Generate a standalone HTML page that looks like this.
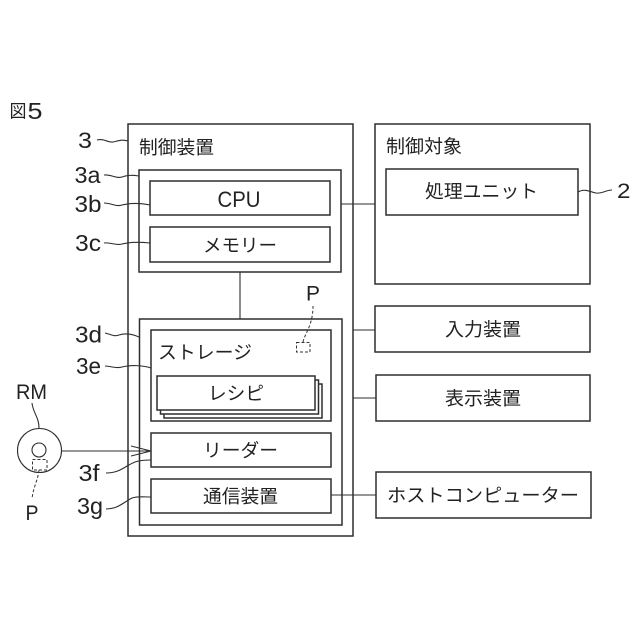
<!DOCTYPE html>
<html lang="ja">
<head>
<meta charset="utf-8">
<style>
html,body{margin:0;padding:0;background:#fff;}
svg{display:block;}
text{font-family:"Liberation Sans","Noto Sans CJK JP",sans-serif;fill:#222;}
.b{fill:none;stroke:#2e2e2e;stroke-width:1.5;}
.w{fill:#fff;stroke:#2e2e2e;stroke-width:1.5;}
.l{fill:none;stroke:#2e2e2e;stroke-width:1.1;}
.d{fill:none;stroke:#333;stroke-width:1;stroke-dasharray:3 2;}
</style>
</head>
<body>
<svg width="640" height="640" viewBox="0 0 640 640" xmlns="http://www.w3.org/2000/svg">
<rect width="640" height="640" fill="#fff"/>

<!-- boxes -->
<rect class="b" x="128" y="124" width="225" height="412"/>
<rect class="b" x="139" y="170" width="202" height="102"/>
<rect class="b" x="150" y="181" width="180" height="34"/>
<rect class="b" x="150" y="227" width="180" height="35"/>
<rect class="b" x="139.500" y="319" width="202.500" height="206"/>
<rect class="b" x="151" y="330" width="180" height="91"/>
<rect class="w" x="164" y="384" width="158" height="34"/>
<rect class="w" x="160.500" y="380" width="158" height="34"/>
<rect class="w" x="157" y="376" width="158" height="34"/>
<rect class="b" x="151" y="433" width="180" height="34"/>
<rect class="b" x="151" y="479" width="180" height="34"/>
<rect class="b" x="375" y="124" width="215" height="160"/>
<rect class="b" x="386" y="169" width="192" height="46"/>
<rect class="b" x="375" y="306" width="215" height="46"/>
<rect class="b" x="376" y="375" width="214" height="46"/>
<rect class="b" x="376" y="472" width="215" height="46"/>

<!-- connectors -->
<path class="l" d="M341 204H375M240 272V319M353 330H375M353 398H376M331 495H376"/>
<path class="l" d="M62 451H151M131 446L151 451L131 456"/>

<!-- disk -->
<circle class="l" cx="39.500" cy="450.500" r="22"/>
<circle class="l" cx="39" cy="450" r="7"/>
<rect class="d" x="32.500" y="459.500" width="14.500" height="10.500"/>
<path class="d" d="M39 470C38 480 33 488 32 499"/>
<rect class="d" x="296.500" y="342.500" width="13.500" height="9.500"/>
<path class="d" d="M303 342C305 333 313 325 313 306"/>
<path class="l" d="M32 403C33 413 39 417 39 428"/>

<!-- leader lines -->
<path class="l" d="M97 140C104 138 108 143 113 142C118 141 122 139 128 141"/>
<path class="l" d="M104 175C111 174 116 179 122 177C128 175 132 175 139 176"/>
<path class="l" d="M104 203C111 203 116 207 122 205C130 203 140 203 150 205"/>
<path class="l" d="M104 243C111 242 116 246 122 244C130 242 140 242 150 243"/>
<path class="l" d="M105 333C110 334 114 337 119 335C125 333 132 334 139 337"/>
<path class="l" d="M105 366C111 366 116 369 122 367C130 365 142 365 151 368"/>
<path class="l" d="M106 473C120 473 125 466 135 462C141 460 146 460 151 460"/>
<path class="l" d="M106 509C118 509 124 502 132 498C138 496 144 497 151 497"/>
<path class="l" d="M578 192C585 188 590 192 596 193C602 194 606 190 612 190"/>

<!-- labels -->
<g font-size="18.500">
<text x="9.500" y="117.500" font-size="18" textLength="17" lengthAdjust="spacingAndGlyphs">図</text>
<text x="27.500" y="119" font-size="23" textLength="15" lengthAdjust="spacingAndGlyphs">5</text>
<text x="78" y="148" font-size="22" textLength="14" lengthAdjust="spacingAndGlyphs">3</text>
<text x="74.500" y="183" font-size="23" textLength="26" lengthAdjust="spacingAndGlyphs">3a</text>
<text x="74.500" y="212" font-size="23" textLength="27" lengthAdjust="spacingAndGlyphs">3b</text>
<text x="75" y="251" font-size="23" textLength="26" lengthAdjust="spacingAndGlyphs">3c</text>
<text x="75" y="342.500" font-size="23" textLength="27" lengthAdjust="spacingAndGlyphs">3d</text>
<text x="76" y="374" font-size="23" textLength="25" lengthAdjust="spacingAndGlyphs">3e</text>
<text x="78.500" y="481" font-size="23" textLength="21" lengthAdjust="spacingAndGlyphs">3f</text>
<text x="77" y="514" font-size="23" textLength="26" lengthAdjust="spacingAndGlyphs">3g</text>
<text x="16" y="399" font-size="21" textLength="31" lengthAdjust="spacingAndGlyphs">RM</text>
<text x="25.500" y="520" font-size="21" textLength="13" lengthAdjust="spacingAndGlyphs">P</text>
<text x="306" y="300.500" font-size="21" textLength="14" lengthAdjust="spacingAndGlyphs">P</text>
<text x="617" y="198" font-size="21" textLength="13.500" lengthAdjust="spacingAndGlyphs">2</text>

<text x="139" y="154" textLength="75" lengthAdjust="spacingAndGlyphs">制御装置</text>
<text x="217.500" y="207" font-size="22" textLength="43" lengthAdjust="spacingAndGlyphs">CPU</text>
<text x="203" y="252" textLength="74" lengthAdjust="spacingAndGlyphs">メモリー</text>
<text x="158" y="359" textLength="94" lengthAdjust="spacingAndGlyphs">ストレージ</text>
<text x="208" y="400" textLength="56" lengthAdjust="spacingAndGlyphs">レシピ</text>
<text x="203" y="457" textLength="75" lengthAdjust="spacingAndGlyphs">リーダー</text>
<text x="203" y="503" textLength="75" lengthAdjust="spacingAndGlyphs">通信装置</text>
<text x="386" y="153" textLength="76" lengthAdjust="spacingAndGlyphs">制御対象</text>
<text x="425" y="198" textLength="113" lengthAdjust="spacingAndGlyphs">処理ユニット</text>
<text x="445" y="336" textLength="76" lengthAdjust="spacingAndGlyphs">入力装置</text>
<text x="445" y="405" textLength="76" lengthAdjust="spacingAndGlyphs">表示装置</text>
<text x="387" y="502" textLength="192" lengthAdjust="spacingAndGlyphs">ホストコンピューター</text>
</g>
</svg>
</body>
</html>
